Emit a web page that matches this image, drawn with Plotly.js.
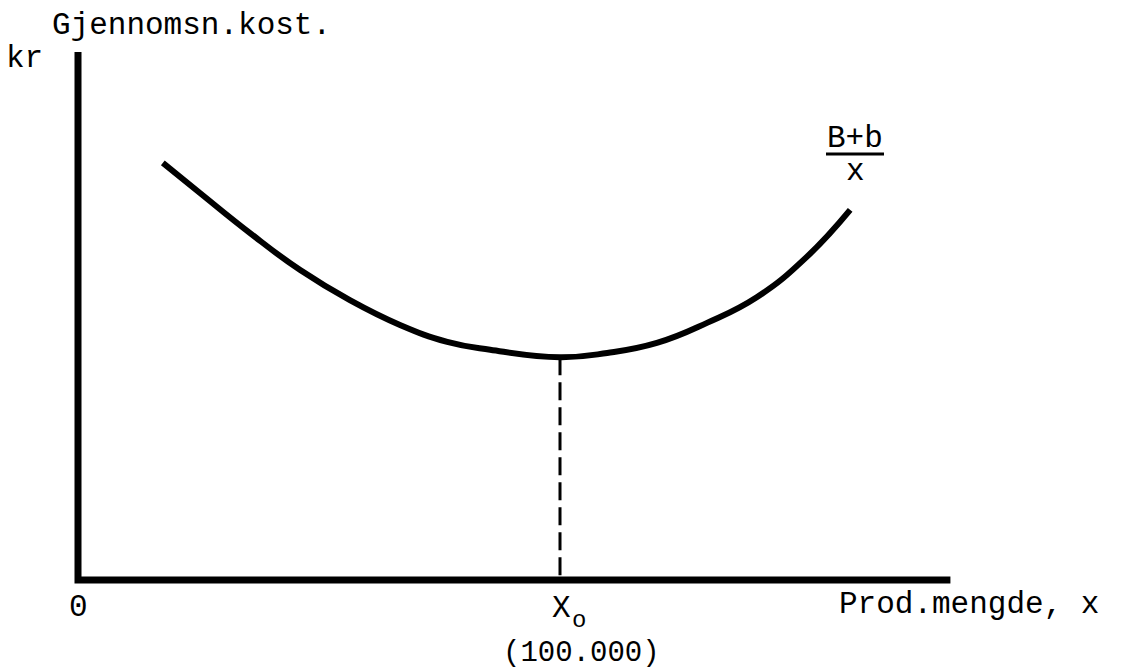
<!DOCTYPE html>
<html>
<head>
<meta charset="utf-8">
<script src="https://cdn.plot.ly/plotly-3.0.1.min.js"></script>
<style>html,body{margin:0;padding:0;background:#fff;}#chart{width:1125px;height:671px;}</style>
</head>
<body>
<div id="chart"></div>
<script>
// Production quantity (thousands) and average cost (kr, arbitrary units)
var prodQty = [17.6, 25.3, 35.7, 46.1, 56.4, 66.8, 76.6, 85.5, 100, 109.8, 120.1, 130.5, 140.9, 151.2, 160.2];
var avgCost = [79.0, 73.3, 65.7, 58.7, 53.0, 48.3, 45.1, 43.6, 42.2, 43.0, 44.9, 48.7, 53.6, 61.2, 70.1];
var optimumX = [100, 100];
var optimumY = [42.2, 0];
var axisX = [0, 0, 181];
var axisY = [100, 0, 0];

var FONT = "Liberation Mono, Courier New, monospace";
var L = 58, R = 155, T = 41, B = 70, W = 1125, H = 671;
var PW = W - L - R, PH = H - T - B;
function px(x){ return (x - L) / PW; }
function py(y){ return (H - B - y) / PH; }

var traces = [
  {x: axisX, y: axisY, mode: 'lines', line: {color: '#000', width: 7}, hoverinfo: 'skip', showlegend: false},
  {x: optimumX, y: optimumY, mode: 'lines', line: {color: '#000', width: 3, dash: '18px,7px'}, hoverinfo: 'skip', showlegend: false},
  {x: prodQty, y: avgCost, mode: 'lines', line: {color: '#000', width: 6, shape: 'spline', smoothing: 1.3}, hoverinfo: 'skip', showlegend: false}
];

function ann(text, x, y, xanchor, size){
  return {text: text, xref: 'paper', yref: 'paper', x: px(x), y: py(y), xanchor: xanchor || 'center', yanchor: 'middle',
          showarrow: false, borderpad: 0, font: {family: FONT, size: size || 31, color: '#000'}};
}

var layout = {
  width: W, height: H,
  margin: {l: L, r: R, t: T, b: B},
  paper_bgcolor: '#fff', plot_bgcolor: '#fff',
  showlegend: false,
  xaxis: {range: [-(78 - L) / 4.82, -(78 - L) / 4.82 + PW / 4.82], showgrid: false, zeroline: false, showticklabels: false, showline: false, ticks: ''},
  yaxis: {range: [-(H - B - 580) / 5.28, -(H - B - 580) / 5.28 + PH / 5.28], showgrid: false, zeroline: false, showticklabels: false, showline: false, ticks: ''},
  annotations: [
    ann('Gjennomsn.kost.', 51, 25, 'left'),
    ann('kr', 5, 58, 'left'),
    ann('0', 78, 607),
    ann('X', 561, 608),
    ann('o', 579, 620, 'center', 24),
    ann('(100.000)', 581, 654, 'center', 29),
    ann('Prod.mengde, x', 838, 604, 'left'),
    ann('B+b', 855, 138),
    ann('x', 855, 172)
  ],
  shapes: [
    {type: 'line', xref: 'paper', yref: 'paper', x0: px(826), x1: px(884), y0: py(154), y1: py(154), line: {color: '#000', width: 3}}
  ]
};

Plotly.newPlot('chart', traces, layout, {displayModeBar: false, staticPlot: true});
</script>
</body>
</html>
